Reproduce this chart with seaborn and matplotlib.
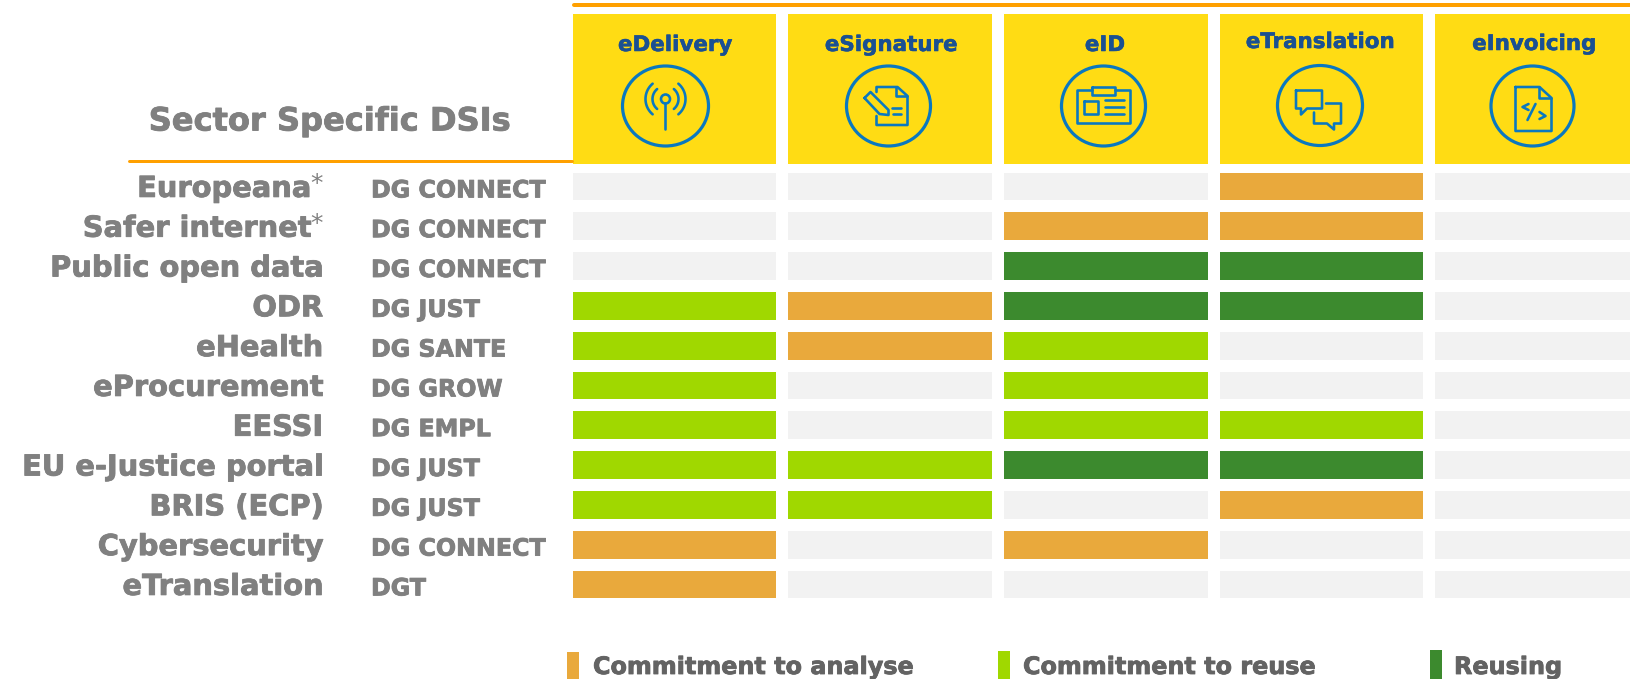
import numpy as np
import seaborn as sns
import matplotlib
matplotlib.use("Agg")
import matplotlib.pyplot as plt
import matplotlib.patheffects as pe
from matplotlib.colors import ListedColormap
from matplotlib.patches import Ellipse, Rectangle
from matplotlib.transforms import ScaledTranslation

# 数据
services = ["eDelivery", "eSignature", "eID", "eTranslation", "eInvoicing"]
dsis = ["Europeana", "Safer internet", "Public open data", "ODR", "eHealth", "eProcurement",
        "EESSI", "EU e-Justice portal", "BRIS (ECP)", "Cybersecurity", "eTranslation"]
owners = ["DG CONNECT", "DG CONNECT", "DG CONNECT", "DG JUST", "DG SANTE", "DG GROW",
          "DG EMPL", "DG JUST", "DG JUST", "DG CONNECT", "DGT"]
starred = ["Europeana", "Safer internet"]
# 0 none, 1 commitment to analyse, 2 commitment to reuse, 3 reusing
status = [
    [0, 0, 0, 1, 0],
    [0, 0, 1, 1, 0],
    [0, 0, 3, 3, 0],
    [2, 1, 3, 3, 0],
    [2, 1, 2, 0, 0],
    [2, 0, 2, 0, 0],
    [2, 0, 2, 2, 0],
    [2, 2, 3, 3, 0],
    [2, 2, 0, 1, 0],
    [1, 0, 1, 0, 0],
    [1, 0, 0, 0, 0],
]
legend_labels = ["Commitment to analyse", "Commitment to reuse", "Reusing"]
palette = ["#F2F2F2", "#E9A93C", "#A0D800", "#3C8A2E"]

W, H = 1631, 679
BLUE = "#0A78C0"
GRAY = "#808080"
px = 72 / 100  # 1 pixel in points


def box(left, top, right, bottom):
    return [left / W, 1 - bottom / H, (right - left) / W, (bottom - top) / H]


def heavy(color, lw=0.6):
    return [pe.withStroke(linewidth=lw, foreground=color)]


sns.set_theme(style="white")
plt.rcParams["font.family"] = ["DejaVu Sans"]
plt.rcParams["font.weight"] = "bold"
fig = plt.figure(figsize=(W / 100, H / 100), dpi=100, facecolor="white")

# 主热力图
ax = fig.add_axes(box(567, 166.5, 567 + 5 * 215.5, 166.5 + 11 * 39.8))
sns.heatmap(np.array(status), ax=ax, cmap=ListedColormap(palette), vmin=0, vmax=3, cbar=False,
            linewidths=12 * px, linecolor="white", xticklabels=False, yticklabels=dsis)
ax.tick_params(axis="y", length=0, pad=(567 - 323) * px, labelsize=20.8, labelcolor=GRAY, rotation=0)
for label in ax.get_yticklabels():
    label.set_path_effects(heavy(GRAY))
    dx = -12 / 100 if label.get_text() in starred else 0
    label.set_transform(label.get_transform() + ScaledTranslation(dx, -2.5 / 100, fig.dpi_scale_trans))

# 表头
head = fig.add_axes(box(567, 8, 567 + 5 * 215.5, 170))
sns.heatmap(np.zeros((1, 5)), ax=head, cmap=ListedColormap(["#FFDC14"]), cbar=False,
            linewidths=12 * px, linecolor="white", xticklabels=False, yticklabels=False)

# 其余文字和图标
ov = fig.add_axes([0, 0, 1, 1])
ov.set_xlim(0, W)
ov.set_ylim(H, 0)
ov.axis("off")
ov.patch.set_alpha(0)

ov.plot([574, W], [5, 5], color="#FFA000", lw=4 * px, solid_capstyle="round")
ov.plot([129, 572], [161, 161], color="#FFA000", lw=3 * px, solid_capstyle="round")
ov.text(330, 122, "Sector Specific DSIs", color=GRAY, fontsize=23.1, ha="center", va="center",
        path_effects=heavy(GRAY))

row_y = 166.5 + 39.8 * (np.arange(len(dsis)) + 0.5)
for y, name, owner in zip(row_y, dsis, owners):
    ov.text(371, y + 4, owner, color=GRAY, fontsize=17.1, ha="left", va="center", path_effects=heavy(GRAY))
    if name in starred:
        ov.text(323, y - 2, "*", color=GRAY, fontsize=18, ha="right", va="center", fontweight="normal")

title_x = [675, 891, 1105, 1320, 1534]
title_y = [45, 45, 45, 42, 44]
for x, y, name in zip(title_x, title_y, services):
    ov.text(x, y, name, color="#1A5092", fontsize=15.4, ha="center", va="center", path_effects=heavy("#1A5092", 0.4))


def stroke(cx, cy, xs, ys, lw=2.6):
    ov.plot(cx + np.array(xs, dtype=float), cy + np.array(ys, dtype=float), color=BLUE, lw=lw * px,
            solid_capstyle="round", solid_joinstyle="round")


def arc(cx, cy, r, a0, a1):
    t = np.radians(np.linspace(a0, a1, 30))
    stroke(cx, cy, r * np.cos(t), r * np.sin(t))


def ring(cx, cy, rx, ry):
    ov.add_patch(Ellipse((cx, cy), 2 * rx, 2 * ry, fill=False, ec=BLUE, lw=3.2 * px))


# eDelivery
cx, cy = 665.5, 106
ring(cx, cy, 43, 40)
ov.add_patch(Ellipse((cx, cy - 7), 9, 9, fill=False, ec=BLUE, lw=2.6 * px))
stroke(cx, cy, [0, 0], [-3, 23])
for r in (13, 20):
    arc(cx, cy - 7, r, -50, 50)
    arc(cx, cy - 7, r, 130, 230)

# eSignature
cx, cy = 888.5, 106
ring(cx, cy, 42, 40)
stroke(cx, cy, [-12, -12, 9, 19, 19, -12, -12], [-14, -19, -19, -10, 19, 19, 10])
stroke(cx, cy, [8, 8, 19], [-19, -10, -10])
stroke(cx, cy, [-24, -18, 0, 0, -9, -24], [-8, -14, 4, 9, 8, -8])
stroke(cx, cy, [4, 13], [2, 2])
stroke(cx, cy, [5, 13], [8, 8])

# eID
cx, cy = 1103.5, 106
ring(cx, cy, 42, 40)
stroke(cx, cy, [-11, -26, -26, 27, 27, 12], [-16, -16, 17, 17, -16, -16])
stroke(cx, cy, [-11, 12, 12, -11, -11], [-19, -19, -11, -11, -19])
stroke(cx, cy, [-19, -5, -5, -19, -19], [-5, -5, 8, 8, -5])
for dy in (-6, 1, 8):
    stroke(cx, cy, [2, 21], [dy, dy])

# eTranslation
cx, cy = 1320, 105.5
ring(cx, cy, 42.5, 40)
stroke(cx, cy, [-24, 2, 2, -13, -19, -19, -24, -24], [-15, -15, 3, 3, 9, 3, 3, -15])
stroke(cx, cy, [6, 21, 21, 14, 14, 7, -6, -6], [-2, -2, 18, 18, 24, 18, 18, 7])

# eInvoicing
cx, cy = 1532.5, 106
ring(cx, cy, 41.5, 40)
stroke(cx, cy, [-17, 7, 19, 19, -17, -17], [-19, -19, -8, 25, 25, -19])
stroke(cx, cy, [7, 7, 19], [-19, -8, -8])
stroke(cx, cy, [-4, -10, -4], [-2, 1, 4])
stroke(cx, cy, [7, 13, 7], [6, 10, 13])
stroke(cx, cy, [-5, 3], [14, -2])

# 图例
legend_x = [567, 998, 1430]
legend_y = [652, 651, 650]
text_x = [593, 1023, 1454]
for x, y, tx, label, color in zip(legend_x, legend_y, text_x, legend_labels, palette[1:]):
    ov.add_patch(Rectangle((x, y), 12, H - y, color=color, lw=0))
    ov.text(tx, 667, label, color="#636363", fontsize=17.2, ha="left", va="center", path_effects=heavy("#636363"))

fig.savefig("out.png", dpi=100)
